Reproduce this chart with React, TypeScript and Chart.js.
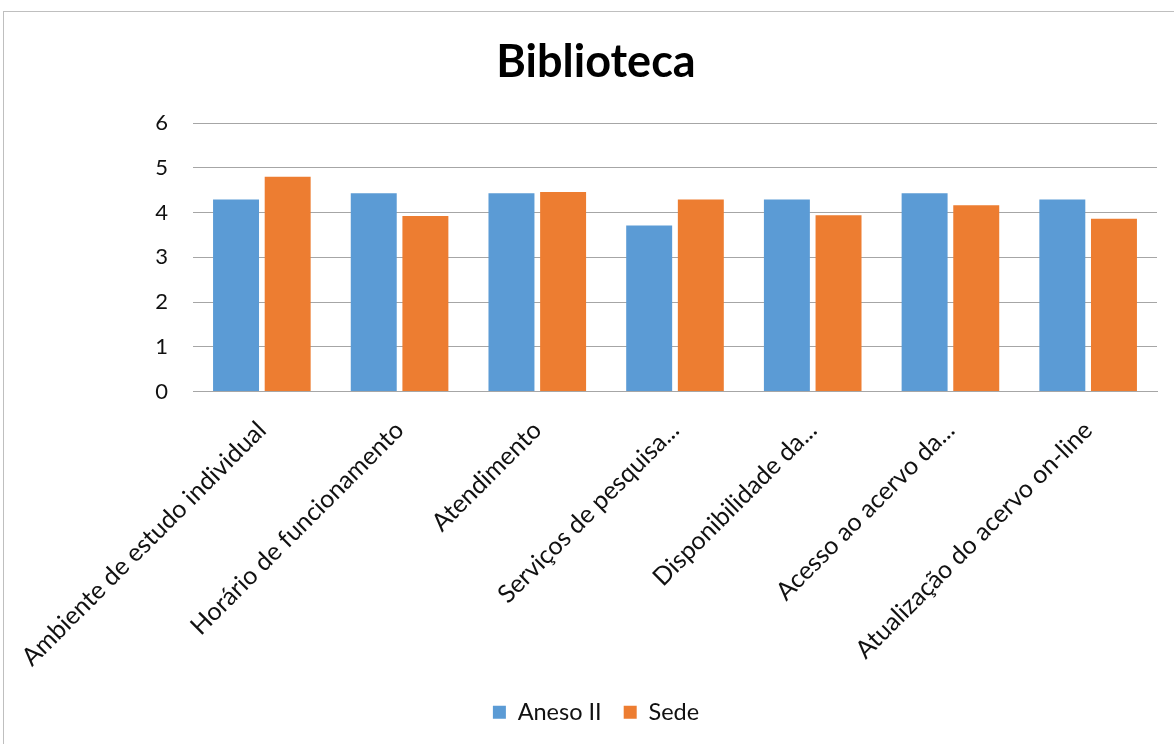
import React, { useEffect, useRef } from "react";
import { Chart, registerables } from "chart.js";

Chart.register(...registerables);

const categories = [
  "Ambiente de estudo individual",
  "Horário de funcionamento",
  "Atendimento",
  "Serviços de pesquisa...",
  "Disponibilidade da...",
  "Acesso ao acervo da...",
  "Atualização do acervo on-line",
];
const anesoII = [4.29, 4.43, 4.43, 3.71, 4.29, 4.43, 4.29];
const sede = [4.8, 3.92, 4.46, 4.29, 3.94, 4.16, 3.86];
const yTicks = [0, 1, 2, 3, 4, 5, 6];

const FONT = "Lato, 'Open Sans', sans-serif";
const W = 1192;
const H = 744;

export default function App() {
  const ref = useRef<HTMLCanvasElement | null>(null);

  useEffect(() => {
    document.body.style.margin = "0";
    document.body.style.overflow = "hidden";
    const canvas = ref.current;
    if (!canvas) return;
    const chart = new Chart(canvas, {
      type: "bar",
      data: {
        labels: categories,
        datasets: [
          {
            label: "Aneso II",
            data: anesoII,
            backgroundColor: "#5B9BD5",
            categoryPercentage: 0.75,
            barPercentage: 0.89,
          },
          {
            label: "Sede",
            data: sede,
            backgroundColor: "#ED7D31",
            categoryPercentage: 0.75,
            barPercentage: 0.89,
          },
        ],
      },
      options: {
        responsive: false,
        animation: false,
        devicePixelRatio: 1,
        layout: { padding: { left: 0, right: 0, top: 0, bottom: 10 } },
        plugins: {
          title: {
            display: true,
            text: "Biblioteca",
            color: "#000",
            font: { family: FONT, size: 45, weight: "bold" },
            padding: { top: 35, bottom: 34 },
          },
          legend: {
            position: "bottom",
            labels: {
              color: "#111",
              font: { family: FONT, size: 23.5 },
              boxWidth: 13,
              boxHeight: 13,
              padding: 22,
            },
          },
          tooltip: { enabled: false },
        },
        scales: {
          x: {
            grid: { display: false },
            border: { display: true, color: "#a6a6a6" },
            ticks: {
              color: "#111",
              font: { family: FONT, size: 25 },
              minRotation: 45,
              maxRotation: 45,
              autoSkip: false,
              padding: 16,
            },
            afterFit: (s: any) => {
              s.height = 287;
              s.paddingLeft = 0;
              s.paddingRight = 0;
            },
          },
          y: {
            min: 0,
            max: 6,
            afterBuildTicks: (s: any) => {
              s.ticks = yTicks.map((v) => ({ value: v }));
            },
            grid: { color: "#a6a6a6", drawTicks: false },
            border: { display: false },
            ticks: {
              color: "#111",
              font: { family: FONT, size: 22 },
              padding: 25,
            },
            afterFit: (s: any) => {
              s.width = 193;
            },
          },
          yRight: {
            position: "right",
            display: true,
            grid: { display: false, drawTicks: false },
            border: { display: false },
            ticks: { display: false },
            afterFit: (s: any) => {
              s.width = W - 1157;
            },
          },
        },
      },
    });
    return () => chart.destroy();
  }, []);

  return (
    <div style={{ position: "relative", width: 1174, height: 744, overflow: "hidden", background: "#fff" }}>
      <div
        style={{
          position: "absolute",
          left: 3,
          top: 11,
          width: 1300,
          height: 900,
          border: "1px solid #bfbfbf",
          boxSizing: "border-box",
        }}
      />
      <canvas
        ref={ref}
        width={W}
        height={H}
        style={{ position: "absolute", left: 0, top: 0, width: W, height: H }}
      />
    </div>
  );
}
